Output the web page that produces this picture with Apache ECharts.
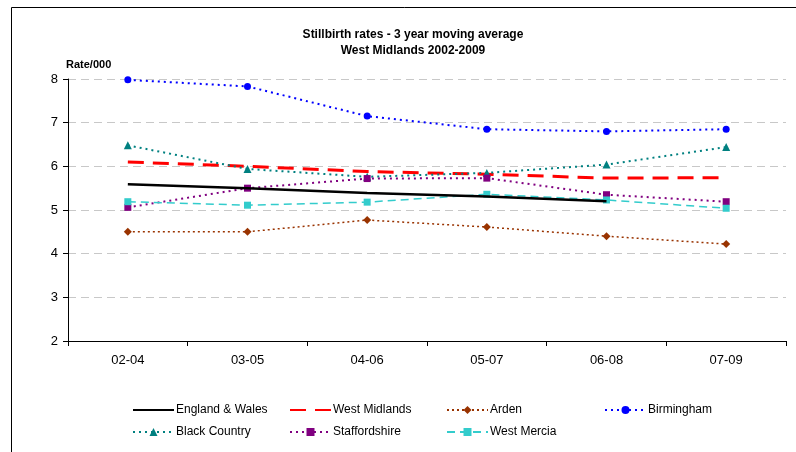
<!DOCTYPE html>
<html>
<head>
<meta charset="utf-8">
<script src="https://cdn.jsdelivr.net/npm/echarts@6/dist/echarts.min.js"></script>
<style>
html,body{margin:0;padding:0;background:#fff;}
#chart{width:796px;height:452px;}
</style>
</head>
<body>
<div id="chart"></div>
<script>
const categories = ['02-04', '03-05', '04-06', '05-07', '06-08', '07-09'];
const yTicks = [2, 3, 4, 5, 6, 7, 8];
const englandWales = [5.59, 5.50, 5.39, 5.31, 5.20, null];
const westMidlands = [6.10, 6.00, 5.88, 5.82, 5.73, 5.74];
const arden = [4.50, 4.50, 4.77, 4.61, 4.40, 4.22];
const birmingham = [7.98, 7.83, 7.15, 6.85, 6.80, 6.85];
const blackCountry = [6.48, 5.94, 5.76, 5.85, 6.04, 6.44];
const staffordshire = [5.06, 5.50, 5.72, 5.73, 5.35, 5.19];
const westMercia = [5.19, 5.11, 5.18, 5.36, 5.23, 5.04];

const FONT = '"Liberation Sans", Arial, sans-serif';
const chart = echarts.init(document.getElementById('chart'), null, {renderer: 'canvas'});

function legendAt(name, left, top, noMarker) {
  const l = {
    data: [name], left: left, top: top, padding: 0,
    itemWidth: 41, itemHeight: 10, itemGap: 0,
    textStyle: {fontFamily: FONT, fontSize: 12, color: '#000', padding: [0, 0, 0, -3]}
  };
  if (noMarker) {
    l.itemStyle = {color: 'rgba(0,0,0,0)', borderWidth: 0, borderColor: 'rgba(0,0,0,0)'};
  }
  return l;
}

chart.setOption({
  animation: false,
  backgroundColor: '#fff',
  textStyle: {fontFamily: FONT},
  title: {
    text: 'Stillbirth rates - 3 year moving average\nWest Midlands 2002-2009',
    left: 408, top: 22, textAlign: 'center',
    textStyle: {fontFamily: FONT, fontSize: 12, fontWeight: 'bold', color: '#000', lineHeight: 16}
  },
  graphic: [{
    type: 'rect', silent: true,
    shape: {x: 11.5, y: 7.5, width: 820, height: 480},
    style: {fill: 'none', stroke: '#000', lineWidth: 1}
  }],
  legend: [
    legendAt('England & Wales', 132, 404, true),
    legendAt('West Midlands', 289, 404, true),
    legendAt('Arden', 446, 404),
    legendAt('Birmingham', 604, 404),
    legendAt('Black Country', 132, 426),
    legendAt('Staffordshire', 289, 426),
    legendAt('West Mercia', 446, 426)
  ],
  grid: {left: 68, right: 10, top: 79, bottom: 111, containLabel: false},
  xAxis: {
    type: 'category', data: categories, boundaryGap: true,
    axisLine: {lineStyle: {color: '#000', width: 1}},
    axisTick: {show: true, length: 5, lineStyle: {color: '#000'}},
    axisLabel: {fontFamily: FONT, fontSize: 13, color: '#000', margin: 13},
    splitLine: {show: false}
  },
  yAxis: {
    type: 'value', min: yTicks[0], max: yTicks[yTicks.length - 1], interval: 1,
    name: 'Rate/000', nameLocation: 'end', nameGap: 9,
    nameTextStyle: {fontFamily: FONT, fontSize: 11, fontWeight: 'bold', color: '#000', align: 'left', padding: [0, 0, 0, -2]},
    axisLine: {show: true, lineStyle: {color: '#000', width: 1}},
    axisTick: {show: true, length: 5, lineStyle: {color: '#000'}},
    axisLabel: {fontFamily: FONT, fontSize: 13, color: '#000', margin: 10},
    splitLine: {show: true, lineStyle: {color: '#c8c8c8', width: 1, type: [8, 5]}}
  },
  series: [
    {name: 'England & Wales', type: 'line', data: englandWales, symbol: 'none',
     lineStyle: {color: '#000', width: 2.5, type: 'solid'}, itemStyle: {color: '#000'}, z: 5},
    {name: 'West Midlands', type: 'line', data: westMidlands, symbol: 'none',
     lineStyle: {color: '#ff0000', width: 3, type: [16, 9]}, itemStyle: {color: '#ff0000'}},
    {name: 'Arden', type: 'line', data: arden, symbol: 'diamond', symbolSize: 8,
     lineStyle: {color: '#993300', width: 1.5, type: [2, 3]}, itemStyle: {color: '#993300'}},
    {name: 'Birmingham', type: 'line', data: birmingham, symbol: 'circle', symbolSize: 7,
     lineStyle: {color: '#0000ff', width: 2, type: [2, 4]}, itemStyle: {color: '#0000ff'}},
    {name: 'Black Country', type: 'line', data: blackCountry, symbol: 'triangle', symbolSize: 8,
     lineStyle: {color: '#008080', width: 2, type: [2, 4]}, itemStyle: {color: '#008080'}},
    {name: 'Staffordshire', type: 'line', data: staffordshire, symbol: 'rect', symbolSize: 7,
     lineStyle: {color: '#800080', width: 2, type: [2, 4]}, itemStyle: {color: '#800080'}},
    {name: 'West Mercia', type: 'line', data: westMercia, symbol: 'rect', symbolSize: 7,
     lineStyle: {color: '#33cccc', width: 1.5, type: [8, 5]}, itemStyle: {color: '#33cccc'}}
  ]
});
</script>
</body>
</html>
